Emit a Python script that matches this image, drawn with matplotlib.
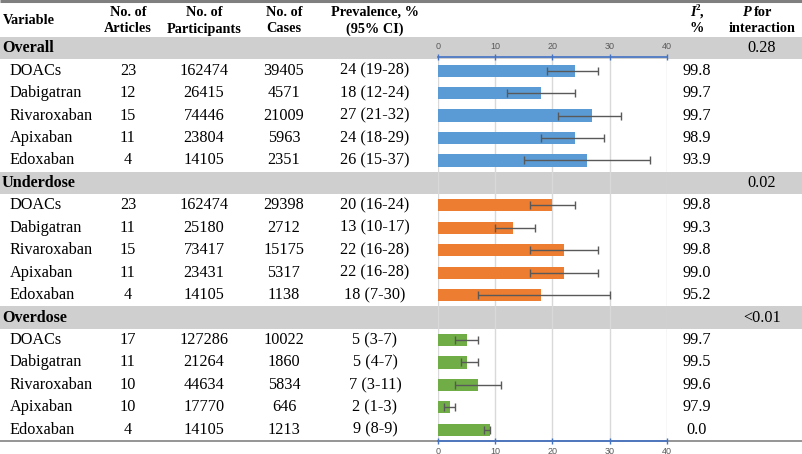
import matplotlib
matplotlib.use("Agg")
import matplotlib.pyplot as plt

# ---- data ----
groups = ["Overall", "Underdose", "Overdose"]
p_interaction = ["0.28", "0.02", "<0.01"]
drugs = ["DOACs", "Dabigatran", "Rivaroxaban", "Apixaban", "Edoxaban"]
articles = [[23, 12, 15, 11, 4], [23, 11, 15, 11, 4], [17, 11, 10, 10, 4]]
participants = [[162474, 26415, 74446, 23804, 14105],
                [162474, 25180, 73417, 23431, 14105],
                [127286, 21264, 44634, 17770, 14105]]
cases = [[39405, 4571, 21009, 5963, 2351],
         [29398, 2712, 15175, 5317, 1138],
         [10022, 1860, 5834, 646, 1213]]
prev = [[24, 18, 27, 24, 26], [20, 13, 22, 22, 18], [5, 5, 7, 2, 9]]
ci_lo = [[19, 12, 21, 18, 15], [16, 10, 16, 16, 7], [3, 4, 3, 1, 8]]
ci_hi = [[28, 24, 32, 29, 37], [24, 17, 28, 28, 30], [7, 7, 11, 3, 9]]
i2 = [["99.8", "99.7", "99.7", "98.9", "93.9"],
      ["99.8", "99.3", "99.8", "99.0", "95.2"],
      ["99.7", "99.5", "99.6", "97.9", "0.0"]]
xticks = [0, 10, 20, 30, 40]
bar_colors = ["#5B9BD5", "#ED7D31", "#70AD47"]

# ---- layout (pixels) ----
W, H = 803, 454
ROW0 = 48.2      # center of first band row
RH = 22.45       # row height
CX = {"art": 128, "par": 204, "cas": 284, "prev": 375, "i2": 697, "p": 762}
SERIF = "Liberation Serif"
FS_DATA = 11.7
FS_HEAD = 10.3
FS_GROUP = 11.6

fig = plt.figure(figsize=(W / 100, H / 100), dpi=100)
tab = fig.add_axes([0, 0, 1, 1])
tab.set_xlim(0, W)
tab.set_ylim(H, 0)
tab.axis("off")

def ry(k):
    return ROW0 + RH * k

# top rule & bottom rule
tab.plot([0, W], [1.2, 1.2], color="#7f7f7f", lw=2.2, solid_capstyle="butt")
tab.plot([0, W], [441, 441], color="#8c8c8c", lw=1.3, solid_capstyle="butt")

# headers
hk = dict(fontfamily=SERIF, fontweight="bold", fontsize=FS_HEAD, ha="center", va="center")
tab.text(3, 20, "Variable", fontfamily=SERIF, fontweight="bold", fontsize=FS_HEAD,
         ha="left", va="center")
for key, l1, l2 in [("art", "No. of", "Articles"), ("par", "No. of", "Participants"),
                    ("cas", "No. of", "Cases"), ("prev", "Prevalence, %", "(95% CI)")]:
    tab.text(CX[key], 12, l1, **hk)
    tab.text(CX[key], 29, l2, **hk)
# I^2, %
tab.text(CX["i2"] - 1, 12, "I", fontfamily=SERIF, fontweight="bold", fontstyle="italic",
         fontsize=FS_HEAD, ha="right", va="center")
tab.text(CX["i2"] - 1, 8.5, "2", fontfamily=SERIF, fontweight="bold", fontsize=6.5,
         ha="left", va="center")
tab.text(CX["i2"] + 3, 12, ",", fontfamily=SERIF, fontweight="bold", fontsize=FS_HEAD,
         ha="left", va="center")
tab.text(CX["i2"], 29, "%", **hk)
# P for interaction
tab.text(CX["p"] - 11, 12, "P", fontfamily=SERIF, fontweight="bold", fontstyle="italic",
         fontsize=FS_HEAD, ha="right", va="center")
tab.text(CX["p"] - 8, 12, "for", fontfamily=SERIF, fontweight="bold", fontsize=FS_HEAD,
         ha="left", va="center")
tab.text(CX["p"], 29, "interaction", **hk)

dk = dict(fontfamily=SERIF, fontsize=FS_DATA, ha="center", va="center")
for g, gname in enumerate(groups):
    kb = g * 6
    yb = ry(kb)
    tab.add_patch(plt.Rectangle((0, yb - RH / 2), W, RH, color="#cfcfcf", lw=0, zorder=0))
    tab.text(2, yb, gname, fontfamily=SERIF, fontweight="bold", fontsize=FS_GROUP,
             ha="left", va="center")
    tab.text(CX["p"], yb, p_interaction[g], **dk)
    for i, d in enumerate(drugs):
        y = ry(kb + 1 + i)
        tab.text(9.5, y, d, fontfamily=SERIF, fontsize=FS_DATA, ha="left", va="center")
        tab.text(CX["art"], y, str(articles[g][i]), **dk)
        tab.text(CX["par"], y, str(participants[g][i]), **dk)
        tab.text(CX["cas"], y, str(cases[g][i]), **dk)
        tab.text(CX["prev"], y, f"{prev[g][i]} ({ci_lo[g][i]}-{ci_hi[g][i]})", **dk)
        tab.text(CX["i2"], y, i2[g][i], **dk)

# ---- chart axes ----
x0, x1 = 438.3, 666.7
ytop, ybot = 57.0, 441.0
ax = fig.add_axes([x0 / W, 1 - ybot / H, (x1 - x0) / W, (ybot - ytop) / H])
ax.patch.set_alpha(0)
ax.set_xlim(0, 40)
ax.set_ylim((ybot - ROW0) / RH, (ytop - ROW0) / RH)

for g in range(3):
    ks = [g * 6 + 1 + i for i in range(5)]
    vals = prev[g]
    err = [[v - l for v, l in zip(vals, ci_lo[g])], [h - v for v, h in zip(vals, ci_hi[g])]]
    ax.barh(ks, vals, height=0.54, color=bar_colors[g], zorder=2)
    ax.errorbar(vals, ks, xerr=err, fmt="none", ecolor="#595959", elinewidth=1.0,
                capsize=2.6, capthick=1.0, zorder=3)

ax.set_xticks(xticks)
ax.set_yticks([])
ax.grid(axis="x", color="#d9d9d9", lw=1.0, zorder=1)
ax.set_axisbelow(True)
for s in ["left", "right"]:
    ax.spines[s].set_visible(False)
for s in ["top", "bottom"]:
    ax.spines[s].set_color("#4472C4")
    ax.spines[s].set_linewidth(1.2)
ax.tick_params(axis="x", which="both", top=True, bottom=True, labeltop=True, labelbottom=True,
               direction="inout", length=4, width=1, color="#4472C4",
               labelsize=6.5, labelcolor="#595959", pad=2)
for lab in ax.get_xticklabels():
    lab.set_fontfamily("Liberation Sans")

fig.savefig("out.png", dpi=100)
